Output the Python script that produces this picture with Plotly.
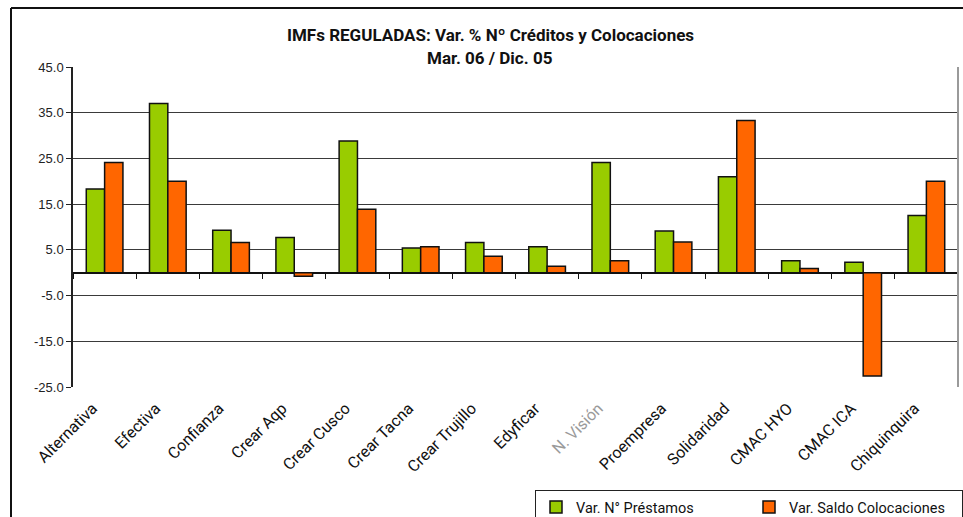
import plotly.graph_objects as go

categories = ["Alternativa", "Efectiva", "Confianza", "Crear Aqp", "Crear Cusco",
              "Crear Tacna", "Crear Trujillo", "Edyficar", "N. Visión", "Proempresa",
              "Solidaridad", "CMAC HYO", "CMAC ICA", "Chiquinquira"]
tick_labels = ["Alternativa", "Efectiva", "Confianza", "Crear Aqp", "Crear Cusco",
               "Crear Tacna", "Crear Trujillo", "Edyficar",
               "<span style='color:#9a9a9a'>N. Visión</span>", "Proempresa",
               "Solidaridad", "CMAC HYO", "CMAC ICA", "Chiquinquira"]
var_prestamos = [18.3, 37.0, 9.3, 7.7, 28.8, 5.4, 6.6, 5.7, 24.1, 9.1, 21.0, 2.6, 2.3, 12.5]
var_colocaciones = [24.1, 20.0, 6.6, -0.8, 13.9, 5.7, 3.6, 1.4, 2.6, 6.7, 33.3, 0.9, -22.6, 20.0]
y_ticks = [-25, -15, -5, 5, 15, 25, 35, 45]
boundaries = [i - 0.5 for i in range(len(categories) + 1)]

NARROW = "Liberation Sans Narrow, Arial Narrow, Roboto, sans-serif"
ARIAL = "Liberation Sans, Arial, sans-serif"

fig = go.Figure()
fig.add_trace(go.Bar(x=categories, y=var_prestamos, name="Var. N° Préstamos",
                     marker=dict(color="#99CC00", line=dict(color="#111111", width=1.5))))
fig.add_trace(go.Bar(x=categories, y=var_colocaciones, name="Var. Saldo Colocaciones",
                     marker=dict(color="#FF6600", line=dict(color="#111111", width=1.5))))
# invisible trace to host the zero-line tick axis
fig.add_trace(go.Scatter(x=[boundaries[0]], y=[0], xaxis="x2", mode="markers",
                         marker=dict(opacity=0), showlegend=False, hoverinfo="skip"))

W, H = 963, 517
L, R, T, B = 73, 5, 67, 130
pw, ph = W - L - R, H - T - B

def px_x(x):
    return (x - L) / pw

def px_y(y):
    return (H - B - y) / ph

fig.update_layout(
    width=W, height=H,
    margin=dict(l=L, r=R, t=T, b=B, autoexpand=False),
    paper_bgcolor="white", plot_bgcolor="white",
    barmode="group", bargap=0.42, bargroupgap=0,
    showlegend=True,
    legend=dict(orientation="h", x=px_x(535), y=px_y(490), xanchor="left", yanchor="top",
                bordercolor="#222222", borderwidth=1, bgcolor="white",
                font=dict(family=NARROW, size=14.5, color="#111111"),
                entrywidth=168, itemwidth=30, traceorder="normal"),
    xaxis=dict(type="category", categoryorder="array", categoryarray=categories,
               tickvals=categories, ticktext=tick_labels, tickangle=-45,
               tickfont=dict(family=NARROW, size=16, color="#111111"),
               ticklabelstandoff=8, ticklabelshift=-12,
               showgrid=False, showline=False, ticks="", zeroline=False,
               range=[-0.5, len(categories) - 0.5]),
    xaxis2=dict(overlaying="x", anchor="free", position=25 / 70, side="bottom",
                range=[-0.5, len(categories) - 0.5], tickvals=boundaries,
                showticklabels=False, ticks="outside", ticklen=5, tickwidth=1,
                tickcolor="#111111", showgrid=False, zeroline=False, showline=False),
    yaxis=dict(range=[-25, 45], tickvals=y_ticks, ticktext=[f"{v:.1f}" for v in y_ticks],
               tickfont=dict(family=ARIAL, size=13, color="#222222"),
               showgrid=True, gridcolor="#3a3a3a", gridwidth=1,
               zeroline=True, zerolinecolor="#111111", zerolinewidth=1.5,
               showline=True, linecolor="#222222", linewidth=1.5,
               ticks="outside", ticklen=5, tickcolor="#222222"),
    shapes=[
        dict(type="line", xref="paper", yref="paper", x0=1, x1=1, y0=0, y1=1,
             line=dict(color="#9a9a9a", width=2)),
        dict(type="line", xref="paper", yref="paper", x0=px_x(11), x1=px_x(970),
             y0=px_y(8), y1=px_y(8), line=dict(color="#111111", width=2)),
        dict(type="line", xref="paper", yref="paper", x0=px_x(11), x1=px_x(11),
             y0=px_y(8), y1=px_y(525), line=dict(color="#111111", width=2)),
    ],
    annotations=[
        dict(text="<b>IMFs REGULADAS: Var. % Nº Créditos y Colocaciones</b>",
             xref="paper", yref="paper", x=px_x(490), y=px_y(35), showarrow=False,
             xanchor="center", yanchor="middle",
             font=dict(family=NARROW, size=17, color="#111111")),
        dict(text="<b>Mar. 06 / Dic. 05</b>",
             xref="paper", yref="paper", x=px_x(490), y=px_y(58), showarrow=False,
             xanchor="center", yanchor="middle",
             font=dict(family=NARROW, size=17, color="#111111")),
    ],
)

fig.write_html("out.html")
